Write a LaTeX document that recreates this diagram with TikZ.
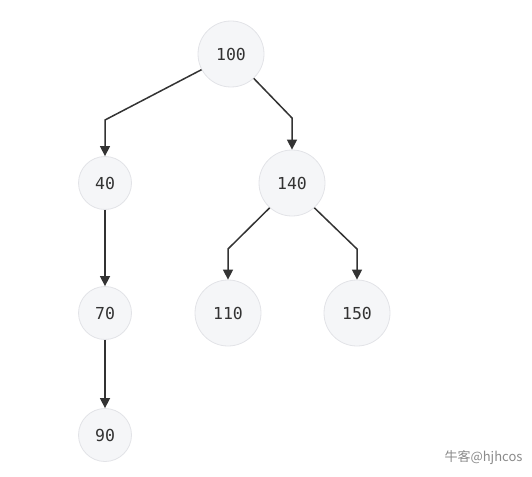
\documentclass[tikz,border=0pt]{standalone}
\usepackage{fontspec}
\setmonofont{DejaVu Sans Mono}
\newfontfamily\cjk{Noto Sans CJK SC}
\usetikzlibrary{arrows.meta}
\definecolor{nodefill}{HTML}{F5F6F8}
\definecolor{nodeline}{HTML}{E2E3E7}
\definecolor{edgecol}{HTML}{333333}
\definecolor{markgray}{HTML}{8A8A8A}

\begin{document}
\begin{tikzpicture}
      [   x=1pt, y=-1pt,
          tnode/.style={draw=nodeline,fill=nodefill,line width=0.8pt,circle,
                        minimum size=#1,inner sep=0pt,font=\ttfamily\fontsize{16.5}{16.5}\selectfont,text=edgecol},
          edge/.style={draw=edgecol,line width=1.5pt,-{Triangle[width=10pt,length=10pt]}},
      ]
          \useasboundingbox (0,0) rectangle (532,476);
          \node[tnode=66pt] (n100) at (231,54) {100};
          \node[tnode=53pt] (n40) at (105,183) {40};
          \node[tnode=66pt] (n140) at (292,183) {140};
          \node[tnode=53pt] (n70) at (105,313) {70};
          \node[tnode=66pt] (n110) at (228,313) {110};
          \node[tnode=66pt] (n150) at (357,313) {150};
          \node[tnode=53pt] (n90) at (105,435) {90};

          \draw[edge] (n100.208) -- (n40 |- 0,120) -- (n40);
          \draw[edge] (n100.313) -- (n140 |- 0,118) -- (n140);
          \draw[edge] (n140.228) -- (n110 |- 0,249) -- (n110);
          \draw[edge] (n140.312) -- (n150 |- 0,249) -- (n150);
          \draw[edge] (n40) -- (n70);
          \draw[edge] (n70) -- (n90);

          \node[text=markgray,font=\cjk\fontsize{13}{13}\selectfont,anchor=east] (mark) at (526,458) {牛客@hjhcos};
    \end{tikzpicture}
\end{document}
